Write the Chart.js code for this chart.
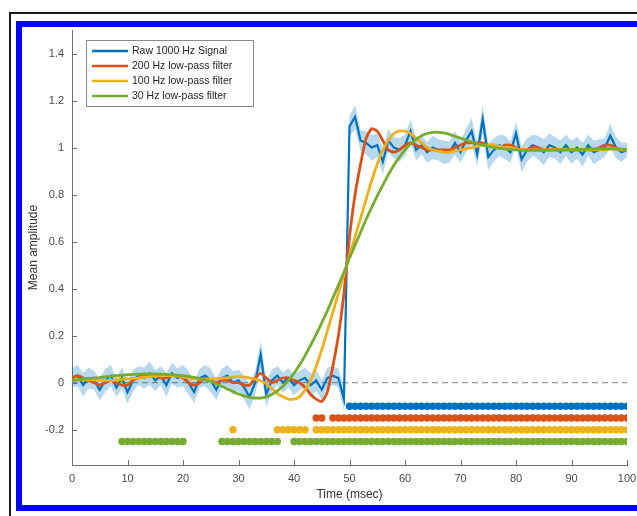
<!DOCTYPE html>
<html lang="en">
<head>
<meta charset="utf-8">
<title>Step response: raw signal vs low-pass filters</title>
<script src="https://cdn.jsdelivr.net/npm/chart.js@4/dist/chart.umd.min.js"></script>
<style>
    html, body {
        margin: 0;
        padding: 0;
        background: #fff;
    }
    body {
        width: 637px;
        height: 516px;
        overflow: hidden;
        position: relative;
    }
    #plot {
        position: absolute;
        left: 0;
        top: 0;
    }
    .frame-outer {
        position: absolute;
        left: 9px;
        top: 12px;
        width: 700px;
        height: 600px;
        border: 2px solid #1a1a1a;
        pointer-events: none;
    }
    .frame-inner {
        position: absolute;
        left: 16px;
        top: 21px;
        width: 700px;
        height: 478px;
        border: 6px solid #0000ff;
        pointer-events: none;
    }
</style>
</head>
<body>
<canvas id="plot" width="637" height="516"></canvas>
<div class="frame-outer"></div>
<div class="frame-inner"></div>

<script>
    // sample times, 1 ms apart
    const timeMs = Array.from({ length: 101 }, (_, i) => i);

    // mean raw signal and its error band half-width
    const rawSignal = [
        0.02, 0.03, -0.01, 0.02, 0.01, -0.03, 0.01, 0.03, -0.02, 0.02,
        -0.04, 0.01, 0.03, 0.02, 0.04, 0.01, 0.03, -0.01, 0.04, 0.02,
        0.03, 0.00, -0.04, 0.02, 0.03, 0.01, -0.03, 0.02, 0.03, 0.00,
        0.01, -0.02, -0.06, 0.00, 0.12, -0.05, 0.01, 0.03, 0.00, 0.02,
        -0.01, 0.01, 0.02, -0.01, 0.01, -0.03, 0.02, 0.03, 0.02, -0.07,
        1.09, 1.13, 1.03, 1.02, 1.00, 1.01, 0.94, 1.03, 1.00, 0.99,
        1.01, 1.07, 0.99, 1.01, 0.98, 1.00, 0.99, 0.98, 0.98, 1.02,
        0.98, 1.03, 1.07, 0.97, 1.12, 0.96, 0.99, 1.01, 1.00, 0.98,
        1.06, 0.95, 0.99, 1.01, 1.00, 0.98, 1.01, 1.00, 0.98, 1.01,
        0.98, 1.00, 0.97, 1.01, 0.98, 0.99, 1.00, 1.05, 1.00, 0.98,
        0.99
    ];
    const rawSpread = [
        0.04, 0.045, 0.05, 0.045, 0.04, 0.045, 0.05, 0.045, 0.04, 0.045,
        0.05, 0.045, 0.04, 0.045, 0.05, 0.045, 0.04, 0.05, 0.045, 0.04,
        0.045, 0.05, 0.045, 0.04, 0.045, 0.05, 0.045, 0.04, 0.045, 0.05,
        0.045, 0.05, 0.055, 0.05, 0.06, 0.055, 0.045, 0.04, 0.045, 0.04,
        0.045, 0.04, 0.045, 0.05, 0.045, 0.04, 0.045, 0.04, 0.04, 0.045,
        0.045, 0.05, 0.045, 0.05, 0.055, 0.05, 0.055, 0.05, 0.045, 0.05,
        0.045, 0.05, 0.045, 0.04, 0.045, 0.05, 0.045, 0.05, 0.045, 0.05,
        0.045, 0.05, 0.055, 0.05, 0.06, 0.055, 0.05, 0.045, 0.05, 0.045,
        0.05, 0.055, 0.05, 0.045, 0.05, 0.055, 0.05, 0.045, 0.05, 0.045,
        0.05, 0.045, 0.05, 0.045, 0.05, 0.045, 0.04, 0.05, 0.045, 0.04,
        0.03
    ];

    // filtered versions of the same signal
    const lp200 = [
        0.02, 0.03, 0.02, 0.01, 0.00, -0.01, 0.00, 0.01, 0.00, -0.01,
        -0.01, 0.01, 0.02, 0.03, 0.03, 0.03, 0.02, 0.02, 0.03, 0.03,
        0.02, 0.00, -0.01, 0.00, 0.02, 0.01, 0.00, 0.01, 0.01, 0.00,
        0.00, -0.01, -0.01, 0.02, 0.04, 0.02, 0.00, 0.01, 0.02, 0.02,
        0.01, 0.00, -0.02, -0.05, -0.07, -0.08, -0.04, 0.07, 0.20, 0.38,
        0.62, 0.80, 0.93, 1.04, 1.08, 1.07, 1.03, 0.99, 0.98, 0.99,
        1.01, 1.02, 1.01, 1.00, 0.99, 0.99, 0.99, 0.99, 0.99, 1.00,
        1.01, 1.02, 1.02, 1.02, 1.02, 1.01, 1.01, 1.00, 1.01, 1.01,
        1.00, 0.99, 0.99, 1.00, 1.00, 0.99, 0.99, 0.99, 0.99, 0.99,
        0.99, 0.99, 0.99, 0.99, 0.99, 1.00, 1.01, 1.01, 1.00, 0.99,
        0.99
    ];
    const lp100 = [
        0.01, 0.012, 0.013, 0.013, 0.012, 0.01, 0.01, 0.01, 0.012, 0.014,
        0.016, 0.018, 0.02, 0.023, 0.026, 0.028, 0.029, 0.03, 0.03, 0.028,
        0.025, 0.02, 0.016, 0.014, 0.015, 0.016, 0.017, 0.019, 0.021, 0.024,
        0.026, 0.025, 0.02, 0.015, 0.008, -0.005, -0.025, -0.045, -0.06, -0.07,
        -0.07, -0.06, -0.03, 0.01, 0.07, 0.14, 0.22, 0.30, 0.38, 0.46,
        0.54, 0.62, 0.70, 0.78, 0.86, 0.93, 0.99, 1.03, 1.06, 1.07,
        1.07, 1.06, 1.04, 1.02, 1.00, 0.99, 0.985, 0.98, 0.98, 0.985,
        0.99, 0.995, 1.0, 1.005, 1.01, 1.01, 1.01, 1.005, 1.0, 1.0,
        0.995, 0.99, 0.99, 0.99, 0.99, 0.99, 0.99, 0.99, 0.99, 0.99,
        0.99, 0.99, 0.99, 0.99, 0.99, 0.99, 0.99, 0.995, 0.995, 0.99,
        0.99
    ];
    const lp30 = [
        0.01, 0.012, 0.015, 0.018, 0.02, 0.022, 0.025, 0.028, 0.03, 0.032,
        0.034, 0.035, 0.036, 0.037, 0.037, 0.037, 0.036, 0.035, 0.034, 0.032,
        0.03, 0.027, 0.023, 0.018, 0.012, 0.005, -0.005, -0.015, -0.027, -0.038,
        -0.048, -0.056, -0.062, -0.065, -0.065, -0.06, -0.05, -0.035, -0.015, 0.01,
        0.04, 0.075, 0.115, 0.16, 0.205, 0.255, 0.305, 0.36, 0.415, 0.47,
        0.53, 0.585, 0.64, 0.695, 0.745, 0.795, 0.84, 0.885, 0.925, 0.96,
        0.99, 1.015, 1.035, 1.05, 1.06, 1.065, 1.065, 1.062, 1.056, 1.048,
        1.04, 1.032, 1.024, 1.017, 1.01, 1.005, 1.0, 0.997, 0.994, 0.992,
        0.99, 0.989, 0.988, 0.988, 0.988, 0.988, 0.988, 0.989, 0.99, 0.99,
        0.99, 0.991, 0.992, 0.993, 0.994, 0.995, 0.995, 0.995, 0.994, 0.993,
        0.992
    ];

    const seriesNames = ['Raw 1000 Hz Signal', '200 Hz low-pass filter', '100 Hz low-pass filter', '30 Hz low-pass filter'];
    const seriesColors = ['#0072BD', '#D95319', '#EDB120', '#77AC30'];

    // runs of significant samples [first ms, last ms], one list per series
    const sigRuns = [
        [[50, 100]],
        [[44, 45], [47, 100]],
        [[29, 29], [37, 42], [44, 100]],
        [[9, 20], [27, 37], [40, 100]]
    ];
    const sigLevels = [-0.1, -0.15, -0.2, -0.25];

    const xTicks = [0, 10, 20, 30, 40, 50, 60, 70, 80, 90, 100];
    const yTicks = [-0.2, 0, 0.2, 0.4, 0.6, 0.8, 1, 1.2, 1.4];

    const axisColor = '#6e6e6e';
    const fontStack = '"Liberation Sans", Arial, Helvetica, sans-serif';

    const xy = values => timeMs.map((t, i) => ({ x: t, y: values[i] }));

    function sigPoints(runs, level) {
        return runs.flatMap(([a, b]) => timeMs.filter(t => t >= a && t <= b))
                   .map(t => ({ x: t, y: level }));
    }

    // inward tick marks, like the original plotting tool
    const innerTicks = {
        id: 'innerTicks',
        afterDatasetsDraw(chart) {
            const { ctx, chartArea, scales } = chart;
            ctx.save();
            ctx.strokeStyle = axisColor;
            ctx.lineWidth = 1;
            ctx.beginPath();
            xTicks.forEach(v => {
                const px = Math.round(scales.x.getPixelForValue(v)) + 0.5;
                ctx.moveTo(px, chartArea.bottom);
                ctx.lineTo(px, chartArea.bottom - 5);
            });
            yTicks.forEach(v => {
                const py = Math.round(scales.y.getPixelForValue(v)) + 0.5;
                ctx.moveTo(chartArea.left, py);
                ctx.lineTo(chartArea.left + 5, py);
            });
            ctx.stroke();
            ctx.restore();
        }
    };

    // boxed legend in the top-left corner of the axes
    const legendBox = {
        id: 'legendBox',
        afterDraw(chart) {
            const { ctx, chartArea } = chart;
            const x0 = chartArea.left + 14, y0 = chartArea.top + 10;
            const w = 167, h = 66, rowH = 15;
            ctx.save();
            ctx.fillStyle = '#fff';
            ctx.fillRect(x0, y0, w, h);
            ctx.strokeStyle = '#8c8c8c';
            ctx.lineWidth = 1;
            ctx.strokeRect(x0 + 0.5, y0 + 0.5, w, h);
            ctx.font = '10.5px ' + fontStack;
            ctx.textBaseline = 'middle';
            seriesNames.forEach((name, i) => {
                const y = y0 + 11 + i * rowH;
                ctx.strokeStyle = seriesColors[i];
                ctx.lineWidth = 2.5;
                ctx.beginPath();
                ctx.moveTo(x0 + 6, y);
                ctx.lineTo(x0 + 42, y);
                ctx.stroke();
                ctx.fillStyle = '#262626';
                ctx.fillText(name, x0 + 46, y);
            });
            ctx.restore();
        }
    };

    const lineSet = (values, i, width, tension, order) => ({
        data: xy(values),
        borderColor: seriesColors[i],
        borderWidth: width,
        pointRadius: 0,
        tension: tension,
        fill: false,
        order: order
    });

    const datasets = [
        lineSet(lp30, 3, 2.8, 0.2, 1),
        lineSet(lp100, 2, 2.8, 0.2, 2),
        lineSet(lp200, 1, 2.8, 0.2, 3),
        lineSet(rawSignal, 0, 2.2, 0, 4),
        {
            // error band upper edge, filled down to the next dataset
            data: xy(rawSignal.map((v, i) => v + rawSpread[i])),
            borderColor: 'rgba(0,0,0,0)',
            borderWidth: 0,
            pointRadius: 0,
            backgroundColor: 'rgba(0,114,189,0.28)',
            fill: '+1',
            order: 5
        },
        {
            data: xy(rawSignal.map((v, i) => v - rawSpread[i])),
            borderColor: 'rgba(0,0,0,0)',
            borderWidth: 0,
            pointRadius: 0,
            fill: false,
            order: 6
        },
        {
            // zero reference
            data: [{ x: xTicks[0], y: 0 }, { x: xTicks[xTicks.length - 1], y: 0 }],
            borderColor: '#9a9a9a',
            borderWidth: 1.2,
            borderDash: [6, 4],
            pointRadius: 0,
            fill: false,
            order: 7
        }
    ];

    sigRuns.forEach((runs, i) => {
        datasets.push({
            data: sigPoints(runs, sigLevels[i]),
            showLine: false,
            pointRadius: 3.7,
            pointBorderWidth: 0,
            pointBackgroundColor: seriesColors[i],
            backgroundColor: seriesColors[i],
            borderColor: seriesColors[i],
            order: 0
        });
    });

    Chart.defaults.font.family = fontStack;

    new Chart(document.getElementById('plot'), {
        type: 'line',
        data: { datasets: datasets },
        options: {
            responsive: false,
            animation: false,
            devicePixelRatio: 1,
            layout: { padding: { top: 30, right: 10, bottom: 0, left: 0 } },
            plugins: {
                legend: { display: false },
                tooltip: { enabled: false }
            },
            scales: {
                x: {
                    type: 'linear',
                    min: 0,
                    max: 100,
                    afterBuildTicks: s => { s.ticks = xTicks.map(v => ({ value: v })); },
                    afterFit: s => {
                        s.height = 51;
                        s.paddingLeft = 0;
                        s.paddingRight = 0;
                    },
                    grid: { display: false, drawTicks: false },
                    border: { display: true, color: axisColor, width: 1 },
                    ticks: {
                        padding: 7,
                        color: '#4a4a4a',
                        font: { size: 11 },
                        autoSkip: false,
                        maxRotation: 0,
                        callback: v => String(v)
                    },
                    title: {
                        display: true,
                        text: 'Time (msec)',
                        color: '#333',
                        font: { size: 12 },
                        padding: { top: 0, bottom: 14 }
                    }
                },
                y: {
                    type: 'linear',
                    min: -0.35,
                    max: 1.5,
                    afterBuildTicks: s => { s.ticks = yTicks.map(v => ({ value: v })); },
                    afterFit: s => {
                        s.width = 72;
                        s.paddingTop = 0;
                        s.paddingBottom = 0;
                    },
                    grid: { display: false, drawTicks: false },
                    border: { display: true, color: axisColor, width: 1 },
                    ticks: {
                        padding: 8,
                        color: '#4a4a4a',
                        font: { size: 11 },
                        autoSkip: false,
                        callback: v => String(v)
                    },
                    title: {
                        display: true,
                        text: 'Mean amplitude',
                        color: '#333',
                        font: { size: 12 },
                        padding: { top: 26, bottom: 0 }
                    }
                }
            }
        },
        plugins: [innerTicks, legendBox]
    });
</script>
</body>
</html>
